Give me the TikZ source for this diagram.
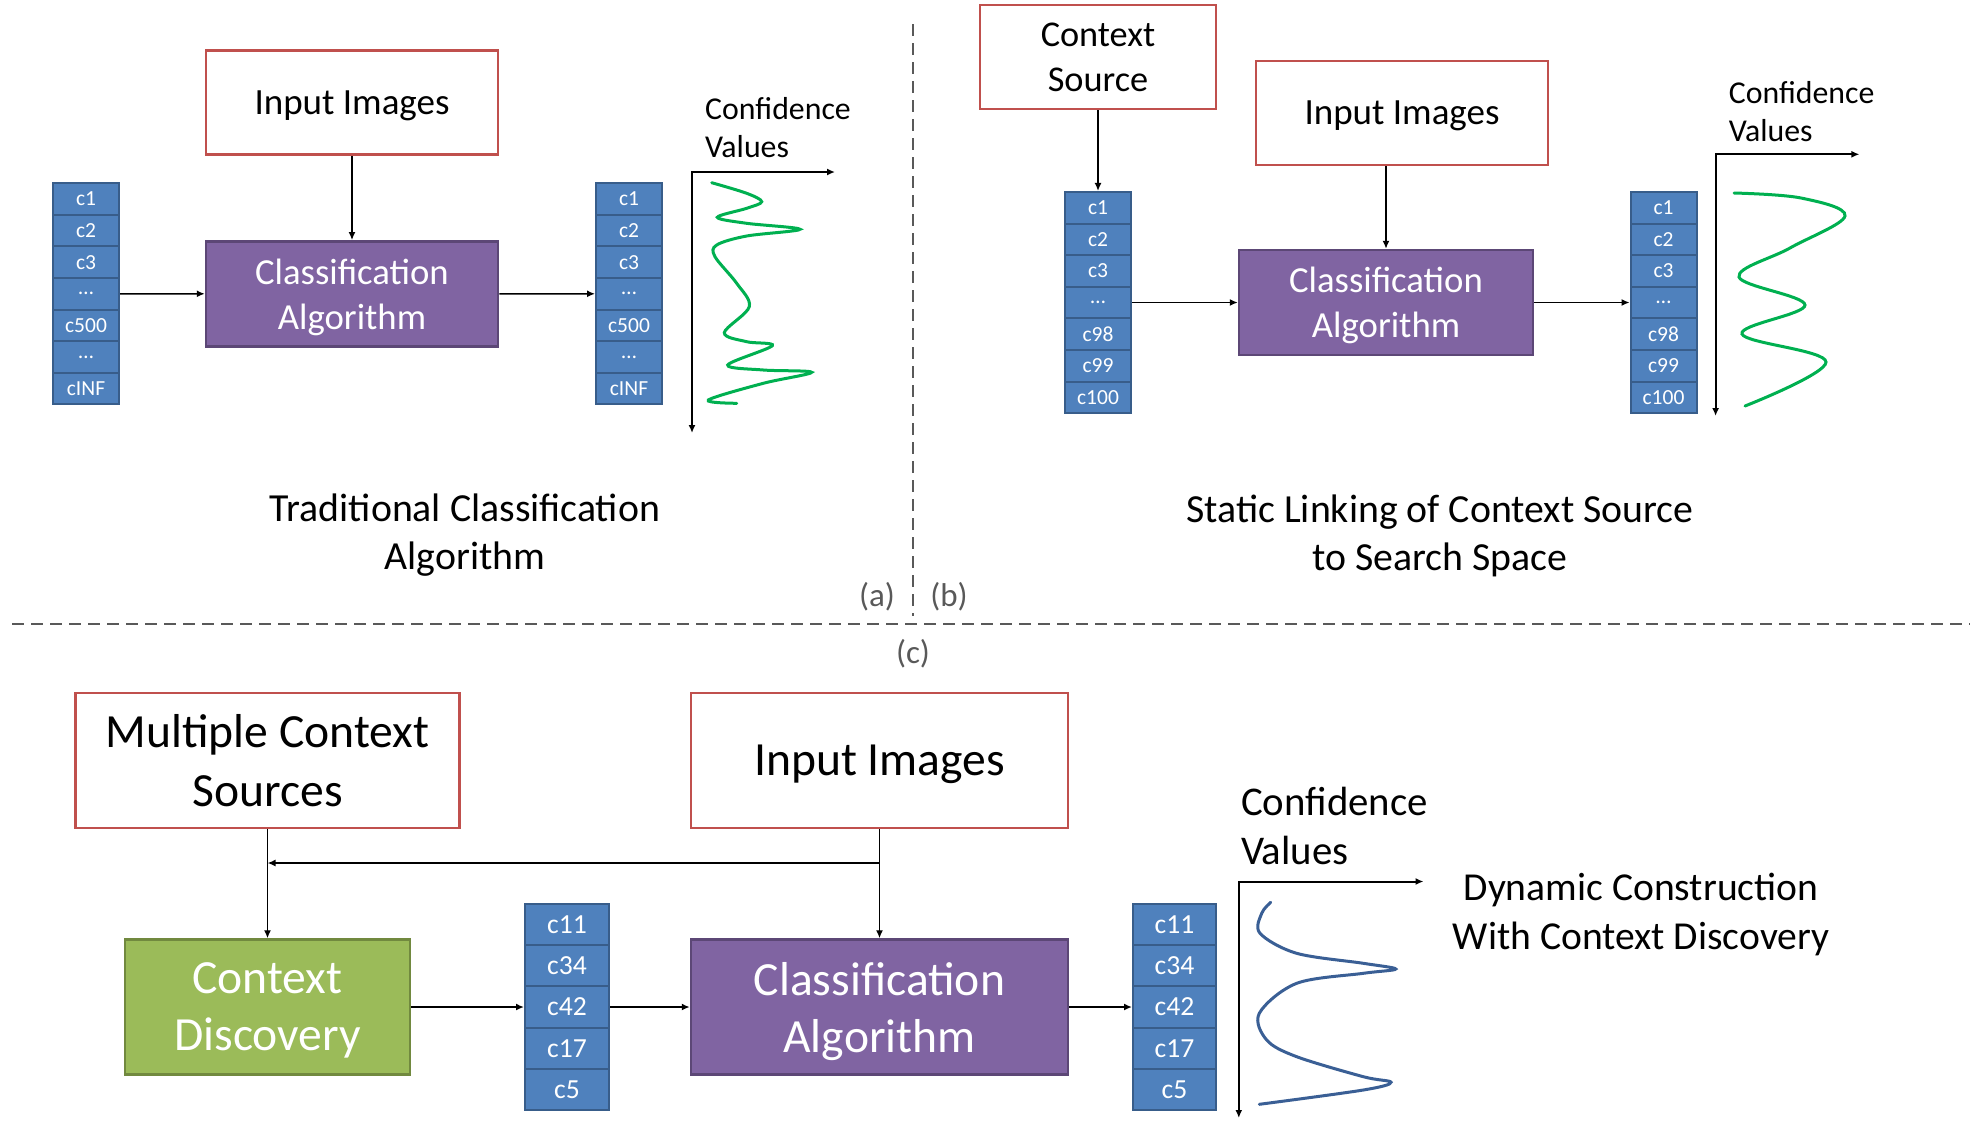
\documentclass[tikz,border=0pt]{standalone}
\usepackage{fontspec}
\setmainfont{Carlito}
\usepackage{tikz}
\usetikzlibrary{arrows.meta,positioning}
\definecolor{BoxRed}{HTML}{C0504D}
\definecolor{AlgoPurple}{HTML}{8064A2}
\definecolor{AlgoPurpleDark}{HTML}{5C4776}
\definecolor{ClassBlue}{HTML}{4F81BD}
\definecolor{ClassBlueDark}{HTML}{385D8A}
\definecolor{DiscGreen}{HTML}{9BBB59}
\definecolor{DiscGreenDark}{HTML}{71893F}
\definecolor{CurveGreen}{HTML}{00B050}
\definecolor{CurveBlue}{HTML}{3A5F95}
\definecolor{SepGray}{HTML}{595959}

\begin{document}
\begin{tikzpicture}[x=1pt, y=-1pt, >={Latex[length=8pt, width=7pt]},
    inbox/.style={draw=BoxRed, line width=2.5pt, fill=white, align=center, text depth=0pt},
    algo/.style={draw=AlgoPurpleDark, fill=AlgoPurple, line width=2.5pt, text=white, align=center, text depth=0pt},
    disc/.style={draw=DiscGreenDark, fill=DiscGreen, line width=2.5pt, text=white, align=center, text depth=0pt},
    cell/.style={draw=ClassBlueDark, fill=ClassBlue, line width=2pt, text=white, inner sep=0pt},
    link/.style={->, line width=1.4pt},
    hlink/.style={->, line width=2.2pt},
    axis/.style={<->, line width=2pt},
    conf/.style={align=left, inner sep=0pt},
    sep/.style={SepGray, line width=2pt, dash pattern=on 12pt off 7pt},
    tag/.style={text=SepGray, font=\fontsize{33}{40}\selectfont}]
    \useasboundingbox (0,0) rectangle (1970,1138);

    % Separateurs (a) | (b) / (c)
    \draw[sep] (913,24) -- (913,616);
    \draw[sep] (12,624) -- (1970,624);
    \node[tag] (tga) at (877,597) {(a)};
    \node[tag] (tgb) at (949,597) {(b)};
    \node[tag] (tgc) at (913,654) {(c)};

    % (a) Traditional Classification
    \node[inbox, minimum width=292pt, minimum height=104pt, font=\fontsize{37}{45}\selectfont] (ia) at (352,102.5) {Input Images};
    \node[algo, minimum width=292pt, minimum height=105pt, font=\fontsize{36.7}{45}\selectfont] (ca) at (352,293.8) {Classification\\Algorithm};
    \foreach \t [count=\i] in {c1,c2,c3,\ldots,c500,\ldots,cINF}
        \node[cell, minimum width=66pt, minimum height=31.6pt, font=\fontsize{21.5}{25}\selectfont] (la\i) at (86,{199+31.6*(\i-1)}) {\t};
    \foreach \t [count=\i] in {c1,c2,c3,\ldots,c500,\ldots,cINF}
        \node[cell, minimum width=66pt, minimum height=31.6pt, font=\fontsize{21.5}{25}\selectfont] (ra\i) at (629,{199+31.6*(\i-1)}) {\t};
    \draw[link] (ia) -- (ca);
    \draw[link] (la4) -- (ca);
    \draw[link] (ca) -- (ra4);
    \coordinate (oa) at (692,172);
    \coordinate (oax) at (835,172);
    \coordinate (oay) at (692,433);
    \draw[axis] (oay) -- (oa) -- (oax);
    \node[conf, above right=14pt and 13pt of oa, font=\fontsize{31.8}{38}\selectfont] (va) {Confidence\\Values};
    \draw[CurveGreen, line width=3pt, line cap=round] plot[smooth, tension=0.55] coordinates {
        (711.7,182.7) (746.7,193.3) (761.7,201.7) (746.7,208.3) (717.3,217.3) (746.7,223.3)
        (800,229.3) (746.7,236) (716.7,245) (715,256.7) (736.7,283.3) (749.3,306.7)
        (724.3,332.7) (746.7,341.7) (772.3,345.7) (727.7,365) (763.3,370) (811.7,372.3)
        (763.3,383.3) (708.3,400) (736.7,403.3)};
    \node[align=center, font=\fontsize{39.8}{48}\selectfont] (capa) at (465,535) {Traditional Classification\\Algorithm};

    % (b) Static Linking
    \node[inbox, minimum width=236pt, minimum height=104pt, font=\fontsize{36.3}{45}\selectfont] (cs) at (1098,57) {Context\\Source};
    \node[inbox, minimum width=292pt, minimum height=104pt, font=\fontsize{37}{45}\selectfont] (ib) at (1402,113) {Input Images};
    \node[algo, minimum width=294pt, minimum height=105pt, font=\fontsize{36.7}{45}\selectfont] (cb) at (1386,302.5) {Classification\\Algorithm};
    \foreach \t [count=\i] in {c1,c2,c3,\ldots,c98,c99,c100}
        \node[cell, minimum width=66pt, minimum height=31.6pt, font=\fontsize{21.5}{25}\selectfont] (lb\i) at (1098,{207.7+31.6*(\i-1)}) {\t};
    \foreach \t [count=\i] in {c1,c2,c3,\ldots,c98,c99,c100}
        \node[cell, minimum width=66pt, minimum height=31.6pt, font=\fontsize{21.5}{25}\selectfont] (rb\i) at (1663.5,{207.7+31.6*(\i-1)}) {\t};
    \draw[link] (cs) -- (lb1);
    \draw[link] (ib.south -| cb) -- (cb);
    \draw[link] (lb4) -- (cb);
    \draw[link] (cb) -- (rb4);
    \coordinate (ob) at (1715.6,154.3);
    \coordinate (obx) at (1859.4,154.3);
    \coordinate (oby) at (1715.6,416);
    \draw[axis] (oby) -- (ob) -- (obx);
    \node[conf, above right=12pt and 13pt of ob, font=\fontsize{31.8}{38}\selectfont] (vb) {Confidence\\Values};
    \draw[CurveGreen, line width=3pt, line cap=round] plot[smooth, tension=0.6] coordinates {
        (1734,193) (1801,198) (1845,216) (1790,248) (1739,277) (1805,305)
        (1742,334) (1826,362) (1745,406)};
    \node[align=center, font=\fontsize{39.8}{48}\selectfont] (capb) at (1440,536) {Static Linking of Context Source\\to Search Space};

    % (c) Dynamic Construction
    \node[inbox, minimum width=384pt, minimum height=135pt, font=\fontsize{47.6}{59}\selectfont] (mcs) at (267.5,760.5) {Multiple Context\\Sources};
    \node[inbox, minimum width=377pt, minimum height=135pt, font=\fontsize{47.6}{59}\selectfont] (ic) at (879.5,760.5) {Input Images};
    \node[disc, minimum width=285pt, minimum height=135pt, font=\fontsize{47.6}{57}\selectfont] (cd) at (267.5,1007) {Context\\Discovery};
    \node[algo, minimum width=377pt, minimum height=135pt, font=\fontsize{47.6}{57}\selectfont] (cc) at (879.5,1007) {Classification\\Algorithm};
    \foreach \t [count=\i] in {c11,c34,c42,c17,c5}
        \node[cell, minimum width=84pt, minimum height=41.2pt, font=\fontsize{27.6}{33}\selectfont] (lc\i) at (567,{924.6+41.2*(\i-1)}) {\t};
    \foreach \t [count=\i] in {c11,c34,c42,c17,c5}
        \node[cell, minimum width=83pt, minimum height=41.2pt, font=\fontsize{27.6}{33}\selectfont] (rc\i) at (1174.5,{924.6+41.2*(\i-1)}) {\t};
    \coordinate (split) at (879.5,863);
    \draw[link] (ic) -- (cc);
    \draw[hlink] (split) -- (split -| mcs);
    \draw[link] (mcs) -- (cd);
    \draw[hlink] (cd) -- (lc3);
    \draw[hlink] (lc3) -- (cc);
    \draw[hlink] (cc) -- (rc3);
    \coordinate (oc) at (1238.8,881.5);
    \coordinate (ocx) at (1423.5,881.5);
    \coordinate (ocy) at (1238.8,1118);
    \draw[axis] (ocy) -- (oc) -- (ocx);
    \node[conf, above right=17pt and 2pt of oc, font=\fontsize{40.8}{49}\selectfont] (vc) {Confidence\\Values};
    \draw[CurveBlue, line width=3pt, line cap=round] plot[smooth, tension=0.55] coordinates {
        (1270.7,902.3) (1261.7,913.3) (1260,933.3) (1296.7,953.3) (1363.3,963.3) (1395.7,969)
        (1363.3,973.3) (1296.7,983.3) (1259.3,1013.3) (1266.7,1040) (1296.7,1056.7)
        (1363.3,1076.7) (1391,1082.3) (1363.3,1090) (1259.3,1104.3)};
    \node[align=center, font=\fontsize{39.6}{49}\selectfont] (capc) at (1641,914) {Dynamic Construction\\With Context Discovery};
\end{tikzpicture}
\end{document}
